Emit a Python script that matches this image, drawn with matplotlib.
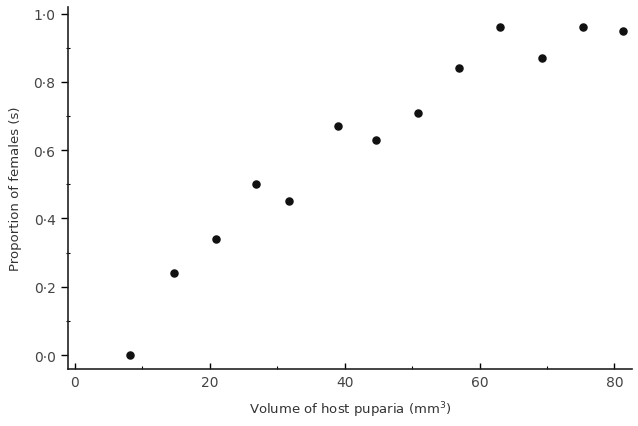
import matplotlib.pyplot as plt
from matplotlib.ticker import FixedLocator, FixedFormatter

# values
volume = [8.2, 14.7, 20.9, 26.9, 31.8, 39.0, 44.7, 50.9, 57.0, 63.1, 69.3, 75.4, 81.3]
prop_females = [0.0, 0.24, 0.34, 0.50, 0.45, 0.67, 0.63, 0.71, 0.84, 0.96, 0.87, 0.96, 0.95]

x_ticks = [0, 20, 40, 60, 80]
x_ticklabels = ["0", "20", "40", "60", "80"]
y_ticks = [0.0, 0.2, 0.4, 0.6, 0.8, 1.0]
y_ticklabels = ["0·0", "0·2", "0·4", "0·6", "0·8", "1·0"]

fig = plt.figure(figsize=(6.38, 4.27), dpi=100)
ax = fig.add_axes([0.1066, 0.1335, 0.884, 0.848])

ax.scatter(volume, prop_females, s=26, color="#111111", zorder=3)

ax.set_xlim(-1.0, 82.6)
ax.set_ylim(-0.041, 1.02)

for side in ["top", "right"]:
    ax.spines[side].set_visible(False)
for side in ["left", "bottom"]:
    ax.spines[side].set_linewidth(1.2)
    ax.spines[side].set_color("#222222")

ax.xaxis.set_major_locator(FixedLocator(x_ticks))
ax.xaxis.set_major_formatter(FixedFormatter(x_ticklabels))
ax.xaxis.set_minor_locator(FixedLocator([10, 30, 50, 70]))
ax.yaxis.set_major_locator(FixedLocator(y_ticks))
ax.yaxis.set_major_formatter(FixedFormatter(y_ticklabels))
ax.yaxis.set_minor_locator(FixedLocator([0.1, 0.3, 0.5, 0.7, 0.9]))

ax.tick_params(axis="x", which="major", direction="in", length=4, width=1.0,
               labelsize=10, labelcolor="#444444", pad=4)
ax.tick_params(axis="x", which="minor", direction="in", length=2.5, width=0.8)
ax.tick_params(axis="y", which="major", direction="out", length=5, width=1.0,
               labelsize=10, labelcolor="#444444", pad=4)
ax.tick_params(axis="y", which="minor", direction="inout", length=3, width=0.8)

ax.set_xlabel("Volume of host puparia (mm$^3$)", fontsize=9.5, color="#333333", labelpad=8)
ax.set_ylabel("Proportion of females (s)", fontsize=9.5, color="#333333", labelpad=8)

fig.savefig("out.png", dpi=100)
